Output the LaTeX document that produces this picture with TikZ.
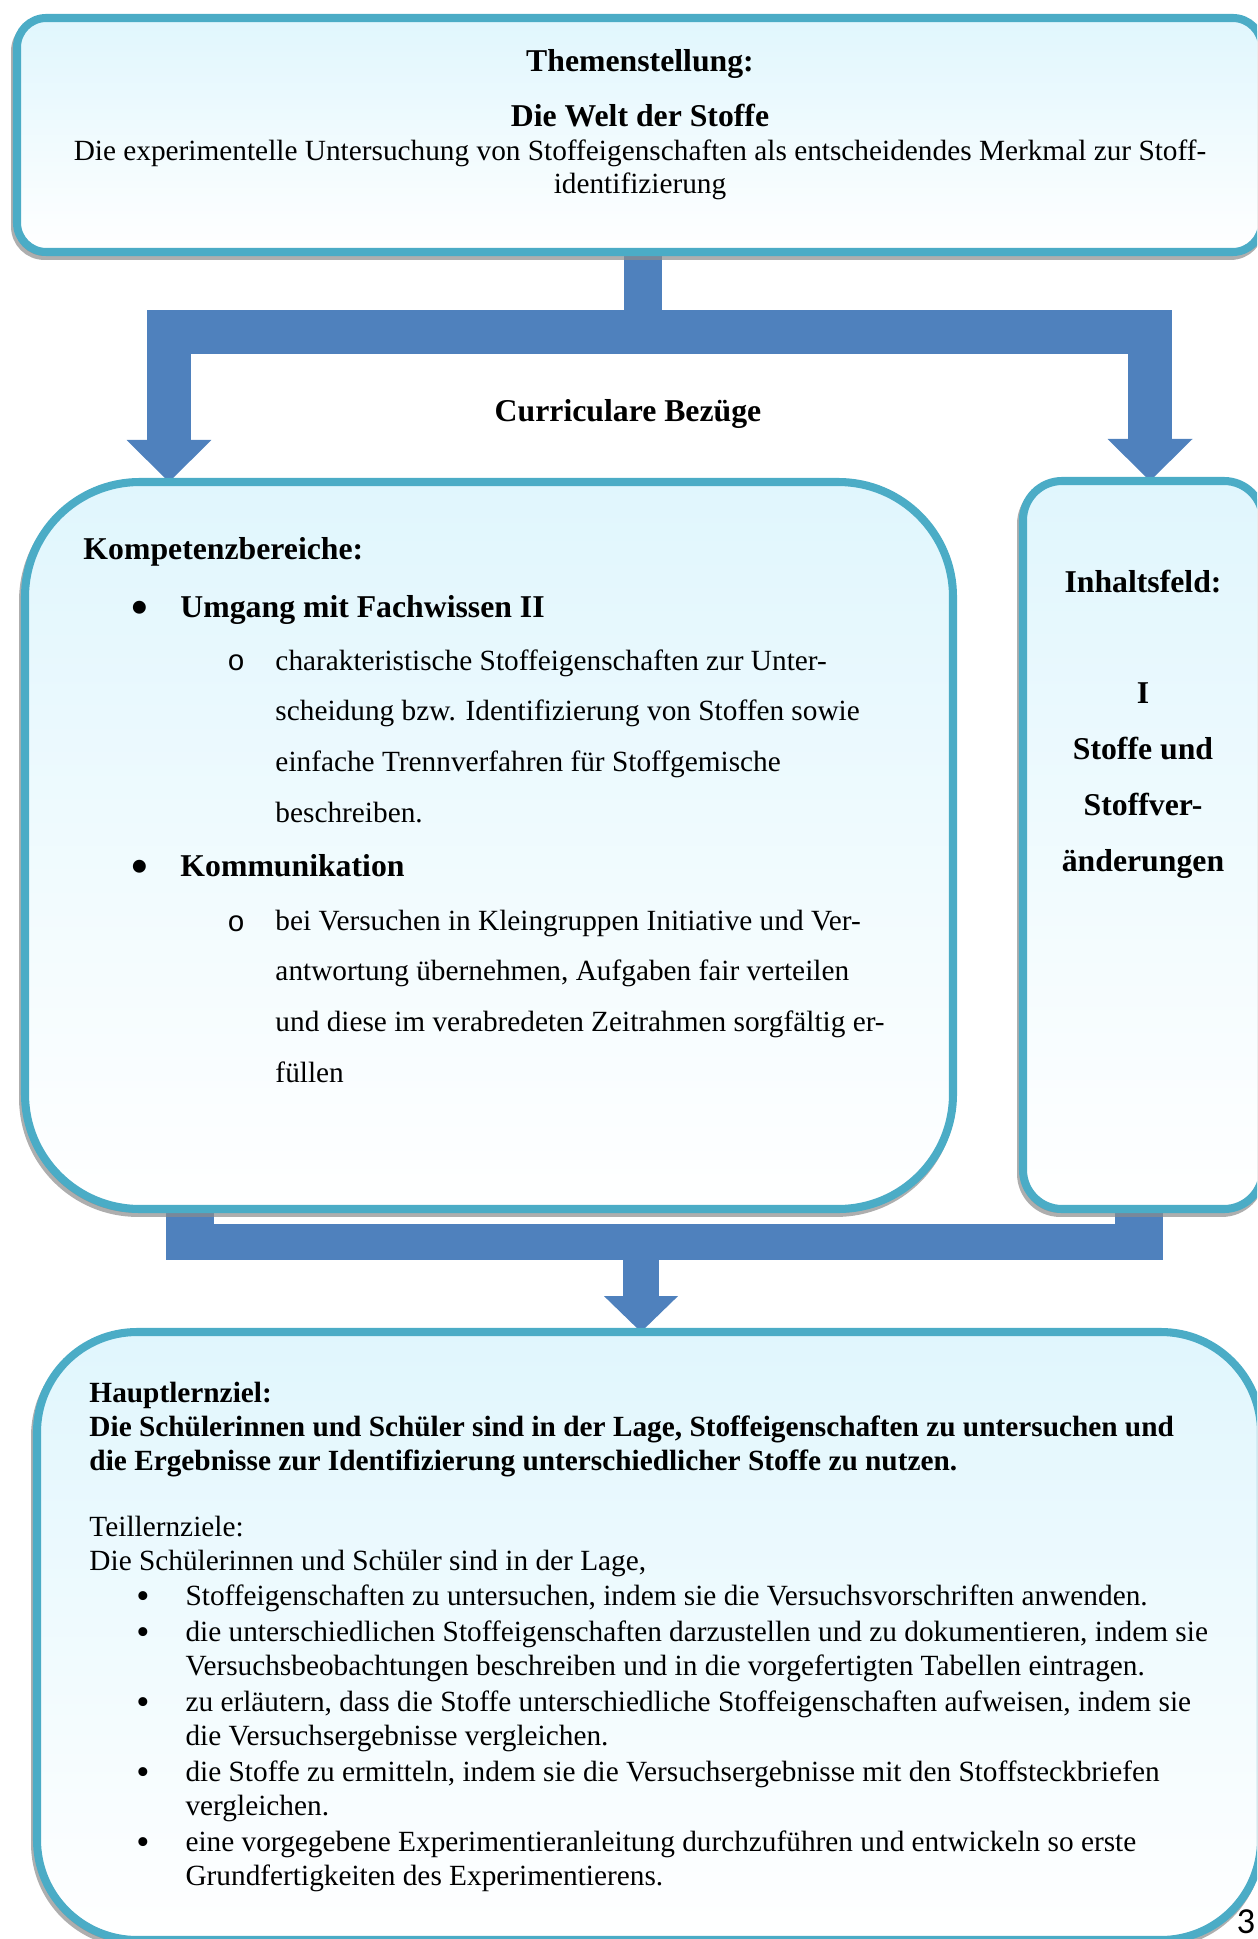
\documentclass[tikz,border=0pt]{standalone}
\usepackage{fontspec}
\setmainfont{Liberation Serif}
\newfontfamily\pagenumfont{Carlito}
\newfontfamily\ringfont{Liberation Mono}
\usepackage{graphicx}
\usepackage{tikz}
\usetikzlibrary{arrows.meta}
\usetikzlibrary{backgrounds}
\usetikzlibrary{fit}
\definecolor{flowblue}{HTML}{4F81BD}
\definecolor{boxline}{HTML}{4BACC6}
\definecolor{boxtop}{HTML}{E0F6FD}
\definecolor{shadowgray}{HTML}{8C8C8C}
\newcommand{\headdot}{\raisebox{-2.5pt}{\scalebox{1.5}{•}}}
\newcommand{\listdot}{\makebox[20.1pt][l]{\raisebox{-1.2pt}{\scalebox{1.28}{•}}}}
\newcommand{\listgap}{\hspace*{20.1pt}}
\tikzset{
  box/.style={draw=boxline, line width=3.3pt, outer sep=0pt, inner sep=0pt,
    top color=boxtop, middle color=boxtop!30!white, bottom color=white,
    preaction={draw=shadowgray, fill=shadowgray, opacity=.7, transform canvas={xshift=-0.8pt, yshift=-1.6pt}}},
  flow/.style={draw=flowblue, line join=miter},
  headtext/.style={inner sep=0pt, font=\fontsize{13}{15}\selectfont\bfseries},
  bodytext/.style={inner sep=0pt, align=left, font=\fontsize{12}{13.8}\selectfont},
  listtext/.style={inner sep=0pt, align=left, font=\fontsize{12}{20.7}\selectfont},
}

\begin{document}
\begin{tikzpicture}[x=0.4095pt, y=-0.4095pt]
\useasboundingbox (0,0) rectangle (1257,1939);
\clip (0,0) rectangle (1257,1939);

\node[box, rounded corners=12pt, fit={(17,18) (1262,252)}] (thema) {};
\node[box, rounded corners=47pt, fit={(25,482) (953,1209)}] (komp) {};
\node[box, rounded corners=16pt, fit={(1023,481) (1263,1209)}] (inhalt) {};
\node[box, rounded corners=41pt, fit={(37,1332) (1261,1940)}] (ziel) {};

\begin{scope}[on background layer]
\coordinate (split) at (643,332);
\coordinate (splitL) at (169,332);
\coordinate (splitR) at (1150,332);
\draw[flow, line width=15.2pt] (thema.south -| split) -- (split);
\draw[flow, line width=18pt, {Triangle[length=17.2pt, width=34.8pt, line width=0pt]}-{Triangle[length=17.2pt, width=34.8pt, line width=0pt]}]
  (komp.north -| splitL) -- (splitL) -- (splitR) -- (inhalt.north -| splitR);

\coordinate (joinL) at (190,1260);
\coordinate (joinR) at (1139,1260);
\coordinate (join) at (641,1242);
\draw[flow, line width=19.7pt] (komp.south -| joinL) -- (joinL);
\draw[flow, line width=19.7pt] (inhalt.south -| joinR) -- (joinR);
\draw[flow, line width=14.7pt, shorten <=-9.8pt, shorten >=-9.8pt] (joinL |- join) -- (joinR |- join);
\draw[flow, line width=14.7pt, -{Triangle[length=14.7pt, width=30.3pt, line width=0pt]}] (join) -- (ziel.north -| join);
\end{scope}

% multi-line nodes sit on the baseline of their last line
\node[headtext, anchor=base] (themahead) at (640,72) {Themenstellung:};
\node[headtext, anchor=base] (themetitle) at (640,127) {Die Welt der Stoffe};
\node[bodytext, align=center, anchor=base] (themetext) at (640,194)
  {Die experimentelle Untersuchung von Stoffeigenschaften als entscheidendes Merkmal zur Stoff-\\identifizierung};

\node[headtext, anchor=base] (bezug) at (628,422) {Curriculare Bezüge};

\node[headtext, anchor=base west] (komphead) at (83,560) {Kompetenzbereiche:};
\node[headtext, anchor=base west] (dotA) at (131,617) {\headdot};
\node[headtext, anchor=base west] (fachwissen) at (180,617) {Umgang mit Fachwissen II};
\node[listtext, font=\ringfont\fontsize{12}{20.7}\selectfont, anchor=base west] (ringA) at (227,670) {o};
\node[listtext, anchor=base west] (fachtext) at (275,822)
  {charakteristische Stoffeigenschaften zur Unter-\\
   scheidung bzw. Identifizierung von Stoffen sowie\\
   einfache Trennverfahren für Stoffgemische\\
   beschreiben.};
\node[headtext, anchor=base west] (dotB) at (131,876) {\headdot};
\node[headtext, anchor=base west] (kommunikation) at (180,876) {Kommunikation};
\node[listtext, font=\ringfont\fontsize{12}{20.7}\selectfont, anchor=base west] (ringB) at (227,931) {o};
\node[listtext, anchor=base west] (kommtext) at (275,1082)
  {bei Versuchen in Kleingruppen Initiative und Ver-\\
   antwortung übernehmen, Aufgaben fair verteilen\\
   und diese im verabredeten Zeitrahmen sorgfältig er-\\
   füllen};

\node[headtext, font=\fontsize{13}{22.8}\selectfont\bfseries, align=center, anchor=base] (feld) at (1143,871)
  {Inhaltsfeld:\\[22.8pt] I\\ Stoffe und\\ Stoffver-\\ änderungen};

\node[bodytext, font=\fontsize{12}{13.8}\selectfont\bfseries, anchor=base west] (hauptziel) at (89,1470)
  {Hauptlernziel:\\
   Die Schülerinnen und Schüler sind in der Lage, Stoffeigenschaften zu untersuchen und\\
   die Ergebnisse zur Identifizierung unterschiedlicher Stoffe zu nutzen.};
\node[bodytext, anchor=base west] (teilziele) at (89,1570)
  {Teillernziele:\\ Die Schülerinnen und Schüler sind in der Lage,};
\node[bodytext, anchor=base west] (teilliste) at (136,1885)
  {\listdot Stoffeigenschaften zu untersuchen, indem sie die Versuchsvorschriften anwenden.\\[1pt]
   \listdot die unterschiedlichen Stoffeigenschaften darzustellen und zu dokumentieren, indem sie\\
   \listgap Versuchsbeobachtungen beschreiben und in die vorgefertigten Tabellen eintragen.\\[1pt]
   \listdot zu erläutern, dass die Stoffe unterschiedliche Stoffeigenschaften aufweisen, indem sie\\
   \listgap die Versuchsergebnisse vergleichen.\\[1pt]
   \listdot die Stoffe zu ermitteln, indem sie die Versuchsergebnisse mit den Stoffsteckbriefen\\
   \listgap vergleichen.\\[1pt]
   \listdot eine vorgegebene Experimentieranleitung durchzuführen und entwickeln so erste\\
   \listgap Grundfertigkeiten des Experimentierens.};

\node[inner sep=0pt, font=\pagenumfont\fontsize{15}{18}\selectfont, anchor=base west] (pagenum) at (1236,1933) {3};
\end{tikzpicture}
\end{document}
